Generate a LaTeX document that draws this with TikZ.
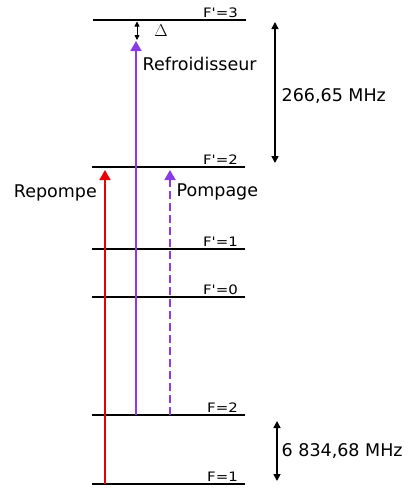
\documentclass[tikz,border=0pt]{standalone}
\usepackage{fontspec}
\setmainfont{DejaVu Sans}
\usetikzlibrary{arrows.meta}
\definecolor{laserred}{RGB}{228,0,0}
\definecolor{laserviolet}{RGB}{138,60,228}
\tikzset{
  level/.style={line width=1.8pt, black},
  lvllabel/.style={anchor=base east, inner sep=0pt, font=\fontsize{13}{15}\selectfont},
  biglabel/.style={inner sep=0pt, font=\fontsize{17.5}{20}\selectfont},
  laser/.style={line width=1.8pt, -{Triangle[width=11pt,length=10pt]}},
  gap/.style={line width=1.6pt, black, {Triangle[width=7pt,length=7pt]}-{Triangle[width=7pt,length=7pt]}},
  smallgap/.style={line width=0.9pt, black, {Triangle[width=5pt,length=5pt]}-{Triangle[width=5pt,length=5pt]}}
}
\newcommand{\lvl}[1]{\scalebox{1.15}[1]{#1}}
\newcommand{\pr}{\textquotesingle}
\begin{document}
\begin{tikzpicture}[x=1pt,y=-1pt]
\useasboundingbox (0,0) rectangle (412,488);
% levels
\coordinate (l3a) at (93,20);   \coordinate (l3b) at (246,20);
\coordinate (l2a) at (92,167); \coordinate (l2b) at (245,167);
\coordinate (l1a) at (92,249);  \coordinate (l1b) at (245,249);
\coordinate (l0a) at (92,297); \coordinate (l0b) at (245,297);
\coordinate (g2a) at (92,415);  \coordinate (g2b) at (245,415);
\coordinate (g1a) at (92,484); \coordinate (g1b) at (245,484);
\draw[level] (l3a) -- (l3b);
\draw[level] (l2a) -- (l2b);
\draw[level] (l1a) -- (l1b);
\draw[level] (l0a) -- (l0b);
\draw[level] (g2a) -- (g2b);
\draw[level] (g1a) -- (g1b);
\node[lvllabel] (t3) at (238,17.5) {\lvl{F\pr=3}};
\node[lvllabel] (t2) at (238,164.5) {\lvl{F\pr=2}};
\node[lvllabel] (t1) at (238,246.5) {\lvl{F\pr=1}};
\node[lvllabel] (t0) at (238,294.5) {\lvl{F\pr=0}};
\node[lvllabel] (s2) at (238,412.5) {\lvl{F=2}};
\node[lvllabel] (s1) at (238,481.5) {\lvl{F=1}};
% lasers
\coordinate (rs) at (105,484); \coordinate (re) at (105,170);
\coordinate (ps) at (136,415);   \coordinate (pe) at (136,41);
\coordinate (ds) at (170,415);   \coordinate (de) at (170,170);
\draw[laser, laserred] (rs) -- (re);
\draw[laser, laserviolet] (ps) -- (pe);
\draw[laser, laserviolet, dash pattern=on 8pt off 4pt] (ds) -- (de);
% detuning
\coordinate (da) at (137,21.5); \coordinate (db) at (137,40);
\draw[smallgap] (da) -- (db);
\node[inner sep=0pt, font=\fontsize{16}{18}\selectfont] (delta) at (161,30.5) {$\Delta$};
% labels
\node[biglabel, anchor=base west] (refr) at (142.5,70.7) {Refroidisseur};
\node[biglabel, anchor=base east] (rep) at (97,197) {Repompe};
\node[biglabel, anchor=base west] (pomp) at (176.5,196.7) {Pompage};
% intervals
\coordinate (ha) at (275,22); \coordinate (hb) at (275,163);
\draw[gap] (ha) -- (hb);
\node[biglabel, anchor=base west] (hf) at (281.5,101.7) {266,65 MHz};
\coordinate (ga) at (277,421); \coordinate (gb) at (277,481);
\draw[gap] (ga) -- (gb);
\node[biglabel, anchor=base west] (gf) at (281.5,456.7) {6 834,68 MHz};
\end{tikzpicture}
\end{document}
